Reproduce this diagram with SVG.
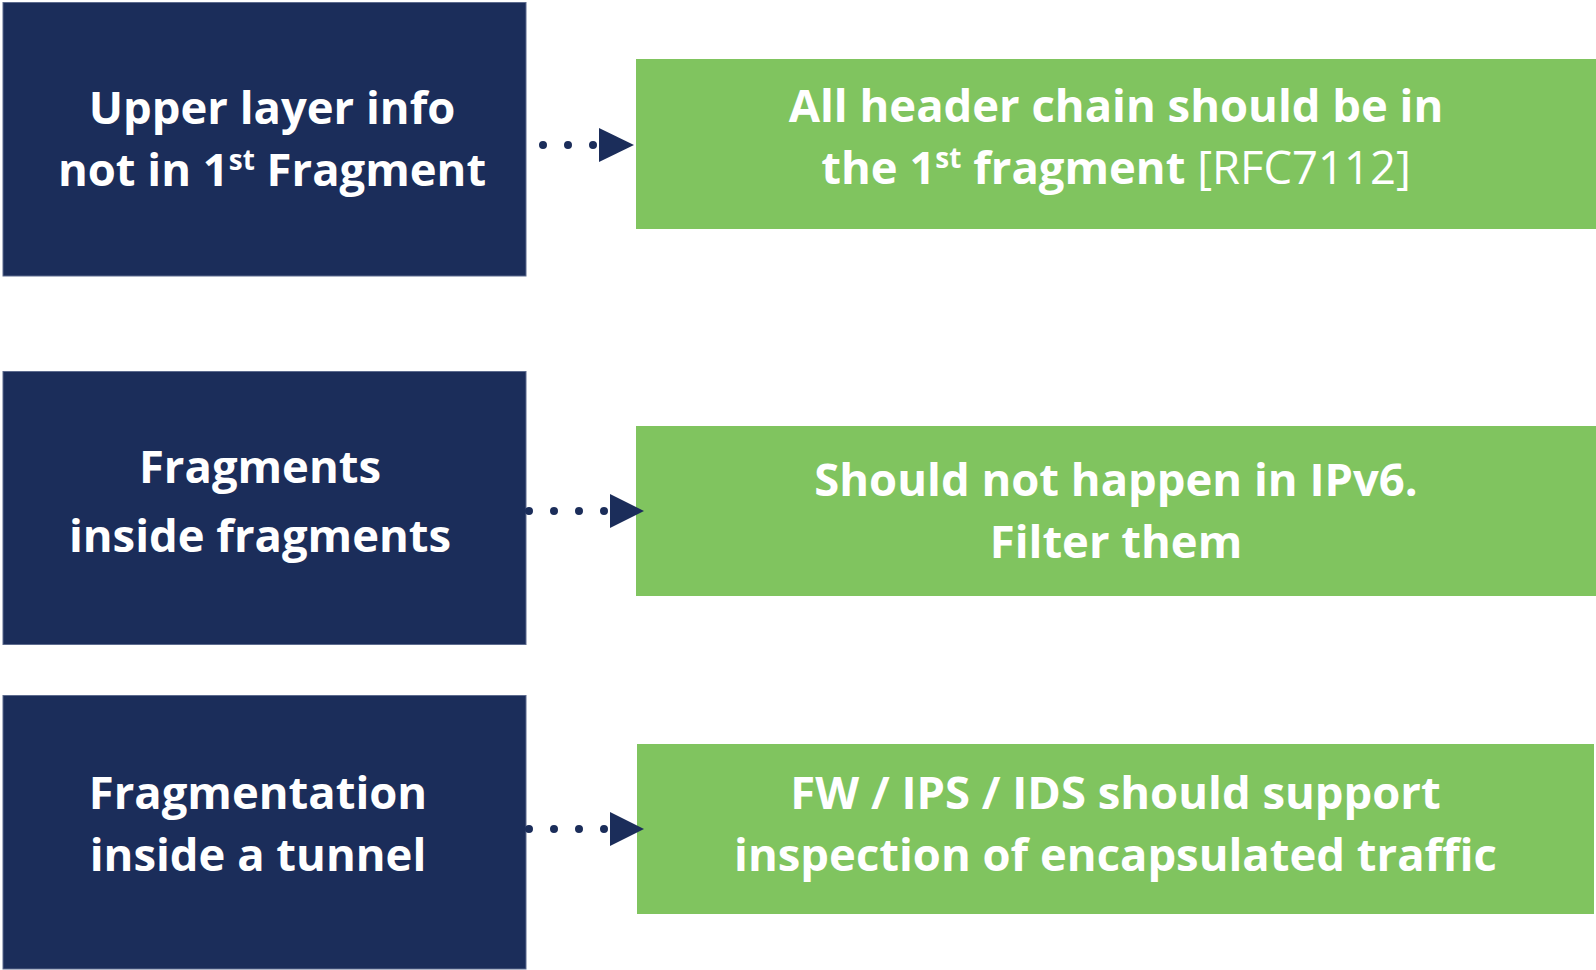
<svg xmlns="http://www.w3.org/2000/svg" width="1596" height="970" viewBox="0 0 1596 970">
<defs>
<style>
.dark{fill:#1b2d5a;stroke:#5d6b8e;stroke-width:1}
.green{fill:#80c45f}
.t{font-family:"Open Sans","Noto Sans",sans-serif;font-weight:700;font-size:45.4px;fill:#ffffff;text-anchor:middle}
.lt{font-weight:400}
.dots{fill:none;stroke:#1b2d5a;stroke-width:8;stroke-linecap:round;stroke-dasharray:0 25}
.head{fill:#1b2d5a}
</style>
</defs>
<rect width="1596" height="970" fill="#ffffff"/>
<g id="problem1">
<rect class="dark" x="3" y="2.5" width="523" height="273.5"/>
<text class="t" x="272" y="124">Upper layer info</text>
<text class="t" x="272" y="186">not in 1<tspan font-size="28" dy="-16">st</tspan><tspan dy="16"> Fragment</tspan></text>
</g>
<g id="solution1">
<rect class="green" x="636" y="59" width="960" height="170"/>
<text class="t" x="1116" y="122">All header chain should be in</text>
<text class="t" x="1116" y="184">the 1<tspan font-size="28" dy="-16">st</tspan><tspan dy="16"> fragment </tspan><tspan class="lt">[RFC7112]</tspan></text>
</g>
<g id="problem2">
<rect class="dark" x="3" y="371.5" width="523" height="273"/>
<text class="t" x="260" y="483">Fragments</text>
<text class="t" x="260" y="552">inside fragments</text>
</g>
<g id="solution2">
<rect class="green" x="636" y="426" width="960" height="170"/>
<text class="t" x="1116" y="496">Should not happen in IPv6.</text>
<text class="t" x="1116" y="558">Filter them</text>
</g>
<g id="problem3">
<rect class="dark" x="3" y="695.5" width="523" height="273.5"/>
<text class="t" x="258" y="809">Fragmentation</text>
<text class="t" x="258" y="871">inside a tunnel</text>
</g>
<g id="solution3">
<rect class="green" x="637" y="744" width="957" height="170"/>
<text class="t" x="1115.5" y="809">FW / IPS / IDS should support</text>
<text class="t" x="1115.5" y="871">inspection of encapsulated traffic</text>
</g>
<g id="connectors">
<path class="dots" d="M543 145 H596"/>
<polygon class="head" points="599,128 634,145 599,162"/>
<path class="dots" d="M529 511 H606"/>
<polygon class="head" points="610,494 644,511 610,528"/>
<path class="dots" d="M529 829 H606"/>
<polygon class="head" points="610,812 644,829 610,846"/>
</g>
</svg>
